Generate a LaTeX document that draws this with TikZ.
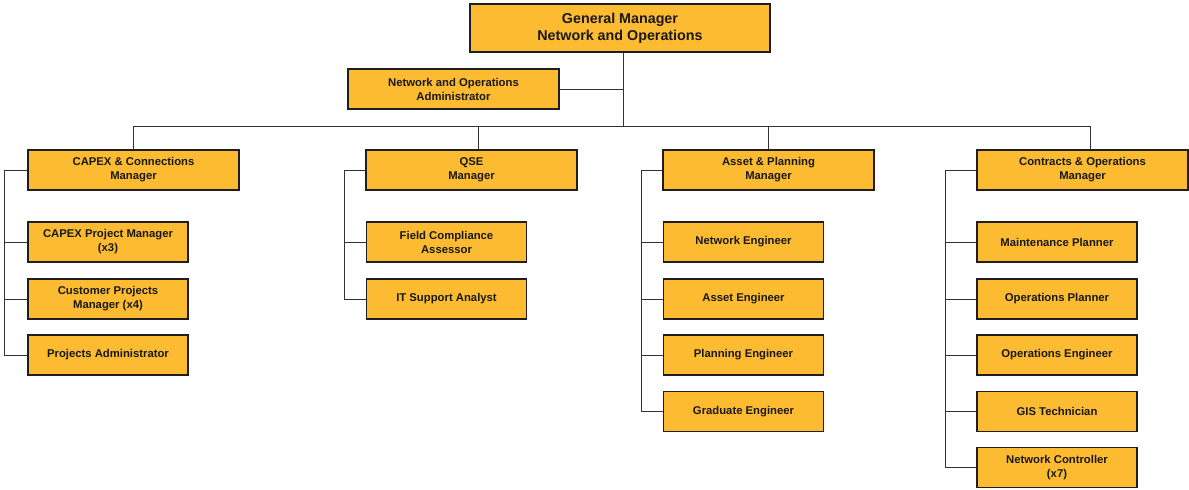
\documentclass[tikz,border=0pt]{standalone}
\usepackage{fontspec}
\setmainfont{Liberation Sans}
\definecolor{boxfill}{RGB}{252,187,49}
\definecolor{edge}{RGB}{30,30,30}
\begin{document}
\begin{tikzpicture}[x=1pt,y=-1pt,
  box/.style={draw=edge, line width=1.1pt, fill=boxfill, inner sep=0pt, align=center,
    font=\fontsize{11.3}{14}\selectfont\bfseries, text=black!90},
  headbox/.style={box, minimum width=300pt, minimum height=48pt,
    font=\fontsize{14.3}{17}\selectfont\bfseries},
  mgrbox/.style={box, minimum width=211pt, minimum height=40pt},
  subbox/.style={box, minimum width=160pt, minimum height=40pt},
  link/.style={draw=black!80, line width=1pt}]
\useasboundingbox (0,0) rectangle (1189,490);

% top of the hierarchy
\node[headbox] (gm) at (620,28) {General Manager\\Network and Operations};
\node[mgrbox] (admin) at (453.5,89) {Network and Operations\\Administrator};
\coordinate (hub) at (623,126);

% managers
\node[mgrbox] (capex) at (133.5,170) {CAPEX \& Connections\\Manager};
\node[mgrbox] (qse) at (471.5,170) {QSE\\Manager};
\node[mgrbox] (asset) at (768.5,170) {Asset \& Planning\\Manager};
\node[mgrbox] (contr) at (1082.5,170) {Contracts \& Operations\\Manager};

% drop points on the bus
\coordinate (d1) at (133,126);
\coordinate (d2) at (478,126);
\coordinate (d3) at (768,126);
\coordinate (d4) at (1090,126);

% spines of each team
\coordinate (s1) at (4,0);
\coordinate (s2) at (344,0);
\coordinate (s3) at (641,0);
\coordinate (s4) at (945,0);

% CAPEX team
\node[subbox] (c1) at (108,242) {CAPEX Project Manager\\(x3)};
\node[subbox] (c2) at (108,299) {Customer Projects\\Manager (x4)};
\node[subbox] (c3) at (108,355) {Projects Administrator};

% QSE team
\node[subbox] (q1) at (446.5,242) {Field Compliance\\Assessor};
\node[subbox] (q2) at (446.5,299) {IT Support Analyst};

% Asset team
\node[subbox] (a1) at (743.5,242) {Network Engineer};
\node[subbox] (a2) at (743.5,299) {Asset Engineer};
\node[subbox] (a3) at (743.5,355) {Planning Engineer};
\node[subbox] (a4) at (743.5,411.5) {Graduate Engineer};

% Contracts team
\node[subbox] (k1) at (1057,242) {Maintenance Planner};
\node[subbox] (k2) at (1057,299) {Operations Planner};
\node[subbox] (k3) at (1057,355) {Operations Engineer};
\node[subbox] (k4) at (1057,411.5) {GIS Technician};
\node[subbox] (k5) at (1057,467.5) {Network Controller\\(x7)};

% connectors
\draw[link] (hub |- gm.south) -- (hub);
\draw[link] (admin.east) -- (admin.east -| hub);
\draw[link] (d1) -- (d4);
\foreach \d/\m in {d1/capex,d2/qse,d3/asset,d4/contr}
  \draw[link] (\d) -- (\d |- \m.north);

\draw[link] (capex.west) -- (capex.west -| s1) -- (s1 |- c3.west) -- (c3.west);
\foreach \n in {c1,c2} \draw[link] (\n.west) -- (\n.west -| s1);

\draw[link] (qse.west) -- (qse.west -| s2) -- (s2 |- q2.west) -- (q2.west);
\draw[link] (q1.west) -- (q1.west -| s2);

\draw[link] (asset.west) -- (asset.west -| s3) -- (s3 |- a4.west) -- (a4.west);
\foreach \n in {a1,a2,a3} \draw[link] (\n.west) -- (\n.west -| s3);

\draw[link] (contr.west) -- (contr.west -| s4) -- (s4 |- k5.west) -- (k5.west);
\foreach \n in {k1,k2,k3,k4} \draw[link] (\n.west) -- (\n.west -| s4);
\end{tikzpicture}
\end{document}
